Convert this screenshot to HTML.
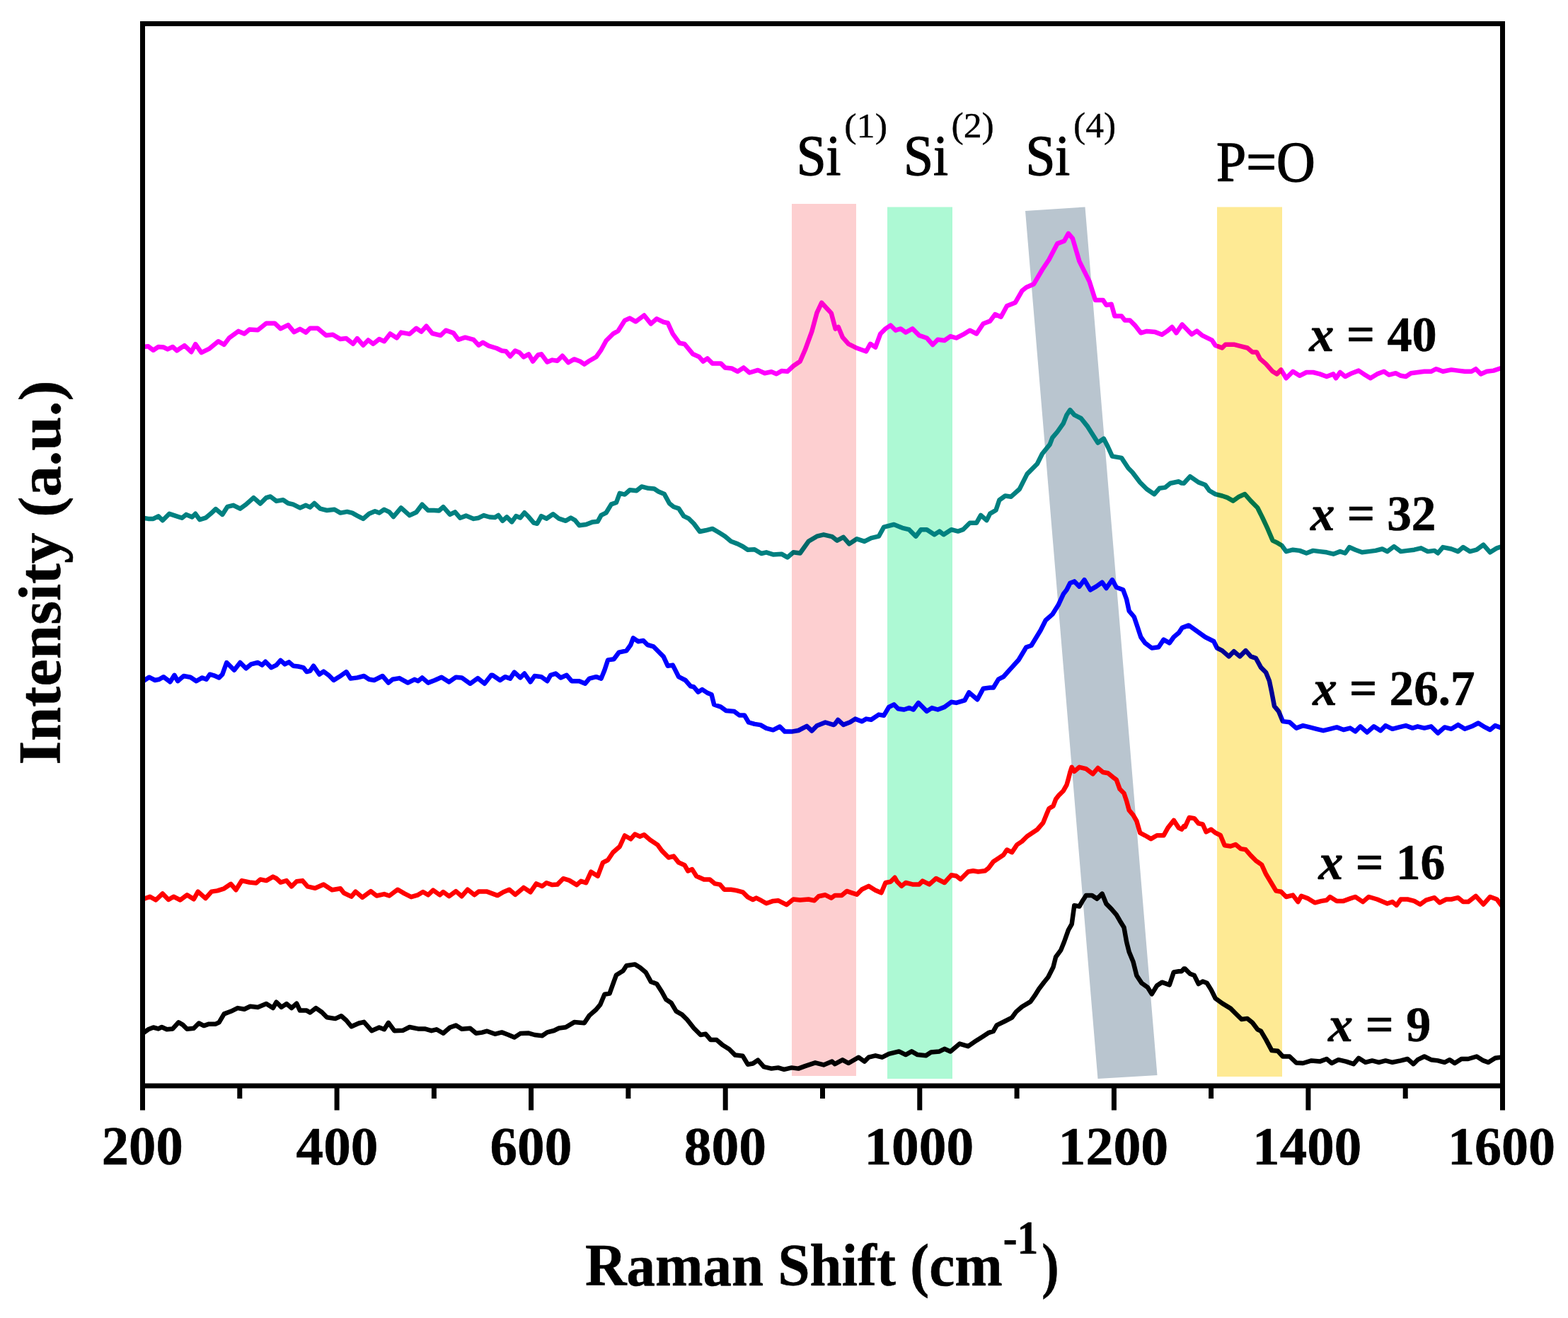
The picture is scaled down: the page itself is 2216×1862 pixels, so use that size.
<!DOCTYPE html>
<html><head><meta charset="utf-8"><title>Raman spectra</title>
<style>
html,body{margin:0;padding:0;background:#fff;}
body{width:2216px;height:1862px;overflow:hidden;}
svg{display:block;}
text{font-family:'Liberation Serif','Times New Roman',serif;fill:#000;stroke:#000;stroke-width:1.3px;stroke-linejoin:round;}
.b{font-weight:bold;stroke-width:0.6px;}
.cv{fill:none;stroke-width:6.5;stroke-linejoin:round;stroke-linecap:round;}
</style></head><body>
<svg width="2216" height="1862" viewBox="0 0 2216 1862">
<rect x="0" y="0" width="2216" height="1862" fill="#ffffff"/>

<g id="bands1">
<rect x="1254" y="292.5" width="92" height="1231.5" fill="#adf9d4"/>
<polygon points="1449,298 1533.5,292.5 1635.5,1519 1551.5,1524" fill="#b9c5cf"/>
</g>
<g id="curves">
<path class="cv" stroke="#ff00ff" d="M202.4,490.0 L209.5,489.3 L216.7,494.8 L223.8,490.0 L231.0,490.5 L236.9,493.4 L244.1,490.0 L250.0,495.3 L260.7,488.1 L270.3,497.2 L276.2,486.2 L284.6,498.1 L295.3,492.9 L308.4,482.2 L316.7,486.9 L323.9,477.4 L337.0,467.9 L345.3,471.5 L352.5,465.5 L364.4,466.2 L376.3,456.7 L388.2,456.7 L396.5,464.3 L407.2,459.1 L415.6,469.1 L423.9,464.8 L432.3,469.6 L438.2,463.8 L448.9,463.8 L460.8,473.8 L470.4,472.7 L481.1,479.1 L489.4,478.1 L499.0,485.8 L504.9,478.1 L513.2,487.7 L520.4,480.5 L527.5,485.8 L535.9,479.1 L543.0,482.2 L551.4,471.5 L560.9,477.4 L566.8,469.6 L578.8,471.9 L588.3,463.8 L595.4,468.6 L602.6,460.7 L610.9,471.0 L622.8,473.8 L630.0,466.7 L640.7,470.3 L647.8,479.8 L657.4,476.7 L669.3,479.8 L676.4,487.7 L682.4,483.8 L690.7,488.6 L701.9,492.0 L709.1,495.5 L715.0,496.2 L721.0,503.4 L728.1,495.5 L734.1,497.9 L740.0,504.3 L747.2,500.3 L753.1,510.5 L760.3,501.5 L765.0,500.3 L773.4,511.5 L780.5,508.6 L787.7,509.8 L794.8,502.7 L803.1,512.2 L811.5,507.4 L819.8,510.5 L825.8,514.6 L832.9,509.8 L842.5,504.3 L849.6,494.3 L856.7,481.2 L866.3,471.7 L873.4,467.7 L882.9,452.7 L890.1,449.6 L898.4,454.3 L910.3,445.5 L919.9,457.4 L928.2,450.3 L937.7,455.0 L943.7,456.2 L950.8,471.7 L960.4,484.8 L967.5,486.0 L979.4,500.3 L987.8,503.9 L993.7,510.5 L999.7,506.3 L1006.8,513.4 L1018.7,513.4 L1024.7,519.4 L1034.2,520.5 L1042.5,524.8 L1050.9,519.4 L1059.2,526.5 L1071.1,522.9 L1080.7,527.2 L1090.2,525.3 L1097.3,528.2 L1104.5,524.1 L1112.8,524.8 L1121.2,517.0 L1130.7,510.5 L1137.8,494.3 L1147.4,468.1 L1154.5,441.9 L1161.2,427.6 L1168.8,436.0 L1174.8,442.4 L1180.7,464.6 L1184.8,462.0 L1190.7,476.3 L1199.1,485.8 L1211.0,491.8 L1224.1,496.5 L1230.0,485.8 L1237.2,490.6 L1244.3,471.5 L1251.5,464.4 L1258.6,459.6 L1265.8,466.7 L1272.9,464.4 L1280.0,469.6 L1289.6,464.4 L1299.1,473.9 L1309.8,477.5 L1318.2,487.0 L1325.3,479.8 L1334.8,481.0 L1343.2,475.1 L1351.5,477.5 L1361.0,472.7 L1370.6,466.7 L1380.1,471.5 L1389.6,457.2 L1399.2,453.6 L1406.3,444.1 L1414.6,447.7 L1423.0,432.2 L1434.9,427.4 L1444.4,410.8 L1450.4,406.0 L1461.1,401.2 L1473.0,381.0 L1482.5,366.7 L1494.4,344.1 L1504.0,340.5 L1509.9,329.8 L1515.9,336.9 L1525.4,369.1 L1532.5,383.4 L1539.7,397.7 L1548.0,423.9 L1558.8,423.9 L1563.5,431.0 L1570.7,429.8 L1575.4,446.5 L1585.0,446.5 L1589.7,452.5 L1596.9,452.5 L1604.0,459.6 L1612.3,470.3 L1620.7,467.9 L1632.6,469.1 L1642.1,472.7 L1649.3,467.9 L1656.4,462.0 L1662.4,470.3 L1670.7,458.4 L1679.5,467.6 L1684.3,472.4 L1691.4,467.6 L1698.6,473.6 L1705.7,477.2 L1712.9,480.7 L1717.6,487.9 L1727.2,491.5 L1731.9,486.7 L1743.8,486.7 L1753.4,489.1 L1762.9,491.5 L1770.0,497.4 L1776.0,497.4 L1780.8,506.9 L1789.1,514.1 L1798.6,524.8 L1804.6,528.4 L1810.5,522.4 L1817.7,534.3 L1827.2,524.8 L1836.7,530.8 L1846.3,526.0 L1855.8,526.0 L1865.3,528.4 L1874.9,532.0 L1884.4,528.4 L1888.0,534.3 L1893.9,526.0 L1901.1,532.0 L1910.6,527.2 L1920.1,523.6 L1927.3,528.4 L1936.8,534.3 L1946.3,528.4 L1955.9,524.8 L1963.0,529.6 L1972.5,527.2 L1979.7,530.8 L1986.8,532.0 L1994.0,527.2 L2003.5,526.0 L2013.0,524.8 L2022.5,524.8 L2029.7,521.2 L2039.2,524.8 L2051.1,522.4 L2060.7,523.6 L2070.2,524.8 L2079.7,524.8 L2085.7,521.2 L2092.8,528.4 L2101.2,524.8 L2110.7,523.6 L2121.4,520.0"/>
<path class="cv" stroke="#008080" d="M202.4,731.7 L209.5,732.9 L216.7,732.9 L223.8,729.3 L229.8,735.3 L239.3,725.8 L247.6,728.6 L257.2,731.7 L263.1,726.9 L271.5,730.5 L276.2,725.8 L282.2,734.1 L290.5,731.7 L297.7,725.8 L304.8,719.1 L314.3,726.9 L321.5,715.8 L329.8,713.8 L339.4,718.6 L347.7,712.7 L358.4,703.1 L367.9,711.5 L376.3,703.1 L382.2,701.5 L390.6,707.9 L400.1,706.2 L407.2,711.0 L414.4,712.7 L423.9,717.4 L432.3,713.8 L438.2,716.7 L444.2,711.0 L452.5,718.6 L462.0,721.0 L472.7,719.8 L481.1,724.6 L490.6,722.9 L497.8,724.6 L504.9,728.6 L513.2,732.9 L521.6,725.8 L529.9,722.2 L535.9,724.6 L543.0,719.8 L550.2,723.4 L556.1,730.0 L566.8,717.4 L578.8,728.1 L588.3,723.8 L596.6,712.7 L605.0,721.0 L613.3,721.0 L620.4,721.5 L626.4,716.2 L635.9,726.9 L643.1,723.4 L650.2,731.7 L658.6,728.6 L669.3,732.9 L676.4,731.7 L683.6,728.1 L691.9,730.5 L699.5,731.0 L704.3,727.9 L710.2,735.8 L716.2,730.3 L723.3,737.4 L729.3,729.1 L735.3,731.5 L741.2,724.3 L747.2,730.3 L754.3,738.6 L759.1,739.8 L765.0,729.1 L772.2,732.7 L781.7,726.2 L790.0,732.7 L799.6,735.8 L806.7,731.5 L812.7,735.0 L818.6,742.2 L828.2,741.0 L837.7,737.4 L844.8,736.7 L849.6,727.9 L856.7,724.3 L863.9,712.4 L871.0,710.0 L875.8,696.9 L882.9,698.6 L890.1,692.2 L899.6,693.3 L906.8,687.4 L916.3,689.8 L924.6,690.5 L930.6,694.5 L938.9,698.1 L946.1,711.2 L952.0,716.0 L959.2,718.4 L966.3,729.1 L973.5,732.7 L980.6,739.8 L989.0,751.0 L997.3,749.3 L1006.8,746.9 L1015.2,751.7 L1024.7,757.7 L1033.0,764.8 L1042.5,768.4 L1049.7,772.0 L1056.8,776.7 L1066.4,776.2 L1075.9,782.0 L1083.0,780.3 L1092.6,783.4 L1104.5,782.7 L1112.8,787.4 L1121.2,780.3 L1130.7,781.5 L1142.6,764.8 L1154.5,757.7 L1164.0,755.3 L1175.9,758.1 L1180.0,761.3 L1183.1,763.6 L1191.9,758.9 L1200.2,768.4 L1211.0,761.3 L1221.7,764.9 L1231.2,760.1 L1241.9,757.7 L1249.1,744.6 L1263.4,741.0 L1275.3,745.8 L1284.8,748.2 L1294.3,757.7 L1301.5,748.2 L1309.8,748.2 L1320.5,755.3 L1327.7,750.6 L1333.6,755.3 L1344.4,748.2 L1353.9,750.6 L1361.0,748.2 L1370.6,738.7 L1380.1,738.7 L1386.1,727.9 L1394.4,735.1 L1399.2,725.6 L1407.5,720.8 L1412.3,706.5 L1420.6,700.5 L1428.9,701.7 L1440.8,691.0 L1451.6,669.6 L1465.9,655.3 L1473.0,641.0 L1483.7,627.9 L1487.3,618.4 L1494.4,610.0 L1502.8,598.1 L1507.5,586.2 L1512.3,579.1 L1518.3,586.2 L1527.8,591.0 L1537.3,602.9 L1543.3,612.4 L1551.6,625.5 L1559.9,619.6 L1565.9,631.5 L1571.9,644.6 L1585.0,646.9 L1594.5,661.2 L1600.4,667.2 L1611.2,681.5 L1620.7,691.0 L1631.4,698.2 L1638.6,689.8 L1646.9,688.6 L1654.0,682.7 L1665.9,680.3 L1670.0,682.6 L1673.1,682.7 L1681.9,673.1 L1693.8,681.4 L1703.3,685.0 L1709.3,693.3 L1717.6,698.1 L1727.2,700.5 L1734.3,702.9 L1742.7,707.6 L1751.0,701.7 L1759.3,698.1 L1767.7,707.6 L1777.2,717.2 L1784.3,731.5 L1791.5,746.9 L1798.6,763.6 L1805.8,767.2 L1811.7,770.8 L1817.7,779.1 L1827.2,776.7 L1836.7,777.9 L1846.3,781.5 L1855.8,777.9 L1865.3,779.1 L1874.9,780.3 L1884.4,782.7 L1893.9,779.1 L1901.1,781.5 L1907.0,773.1 L1915.4,776.7 L1924.9,780.3 L1934.4,779.1 L1943.9,777.9 L1953.5,775.5 L1960.6,779.1 L1970.1,772.0 L1979.7,779.1 L1989.2,777.9 L1998.7,776.7 L2008.3,774.3 L2017.8,779.1 L2027.3,777.9 L2032.1,781.5 L2039.2,773.1 L2051.1,775.5 L2060.7,779.1 L2067.8,773.1 L2077.3,779.1 L2086.9,776.7 L2096.4,769.6 L2105.9,780.3 L2115.5,774.3 L2122.6,772.0"/>
<path class="cv" stroke="#0000ff" d="M202.4,962.2 L210.7,956.7 L219.1,961.0 L225.0,959.8 L231.0,956.2 L240.5,963.4 L246.5,953.8 L251.2,962.2 L259.6,955.0 L269.1,956.7 L277.4,962.2 L285.8,957.4 L291.7,959.8 L296.5,952.7 L302.4,954.3 L309.6,957.4 L314.3,952.7 L320.3,936.0 L331.0,946.7 L339.4,936.0 L347.7,944.3 L354.8,938.4 L364.4,936.0 L370.3,939.6 L375.1,934.8 L383.4,943.1 L390.6,939.6 L396.5,932.9 L402.5,938.4 L408.4,935.3 L414.4,940.7 L421.5,941.5 L428.7,943.1 L433.4,949.1 L438.2,947.9 L443.0,940.7 L451.3,952.7 L457.3,948.6 L464.4,953.8 L471.6,961.0 L479.9,955.8 L489.4,949.1 L495.4,958.6 L504.9,957.4 L514.4,955.0 L521.6,959.8 L528.7,961.0 L540.6,955.0 L549.0,964.6 L554.9,959.8 L564.5,958.1 L576.4,964.6 L585.9,959.8 L590.7,962.2 L596.6,957.4 L605.0,964.6 L614.5,961.0 L624.0,956.7 L634.7,963.4 L644.3,956.7 L652.6,957.4 L664.5,965.8 L675.2,958.1 L684.8,965.8 L694.3,953.8 L696.0,953.8 L706.7,961.0 L713.8,956.2 L721.0,958.6 L726.9,949.6 L735.3,957.4 L741.2,951.5 L749.6,963.4 L755.5,955.0 L765.0,956.2 L773.4,962.2 L778.1,953.8 L785.3,951.5 L792.4,957.4 L800.8,953.8 L807.9,962.2 L818.6,962.2 L827.0,965.8 L832.9,958.6 L842.5,956.2 L849.6,958.6 L854.4,946.7 L859.1,932.4 L867.5,931.2 L874.6,921.7 L885.3,919.3 L891.3,911.0 L894.9,901.4 L902.0,906.2 L909.2,905.0 L915.1,911.0 L923.4,913.3 L930.6,920.5 L937.7,927.6 L943.7,940.7 L950.8,939.6 L959.2,956.2 L968.7,961.0 L975.9,969.3 L980.6,970.5 L986.6,977.7 L992.5,974.1 L999.7,978.9 L1005.6,981.2 L1009.2,995.5 L1018.7,998.6 L1025.9,1003.9 L1037.8,1005.1 L1044.9,1010.5 L1052.1,1010.5 L1058.0,1020.5 L1066.4,1022.9 L1074.7,1024.1 L1083.0,1028.9 L1092.6,1031.3 L1102.1,1026.5 L1109.2,1033.6 L1118.8,1033.6 L1128.3,1032.0 L1140.2,1025.8 L1147.4,1032.5 L1154.5,1025.3 L1166.4,1020.5 L1178.3,1024.1 L1180.0,1022.7 L1184.3,1017.0 L1191.9,1023.9 L1201.4,1020.3 L1208.6,1015.6 L1218.1,1019.2 L1224.1,1015.6 L1231.2,1016.8 L1241.9,1009.6 L1249.1,1010.8 L1256.2,998.9 L1263.4,995.3 L1269.3,1001.3 L1277.7,1002.5 L1284.8,1000.1 L1290.8,1002.5 L1297.9,992.9 L1309.8,1004.9 L1317.0,1000.1 L1325.3,1002.5 L1334.8,998.9 L1344.4,991.8 L1351.5,992.9 L1363.4,989.4 L1369.4,978.2 L1381.3,988.2 L1389.6,972.7 L1399.2,971.5 L1403.9,971.5 L1411.1,959.6 L1418.2,956.0 L1427.7,945.3 L1439.6,932.2 L1450.4,914.3 L1457.5,912.0 L1470.6,890.5 L1477.8,876.2 L1487.3,867.9 L1495.6,854.8 L1502.8,839.3 L1507.5,833.3 L1512.3,823.8 L1518.3,821.4 L1525.4,828.6 L1532.5,819.1 L1540.9,833.3 L1549.2,828.6 L1557.6,822.6 L1563.5,831.0 L1571.9,819.1 L1577.8,829.8 L1587.3,833.3 L1592.1,846.5 L1595.7,863.1 L1602.8,871.5 L1607.6,885.8 L1612.3,900.0 L1618.3,908.4 L1627.8,915.5 L1637.4,914.3 L1644.5,903.6 L1652.8,908.4 L1658.8,900.0 L1665.9,894.1 L1670.7,886.9 L1680.0,883.4 L1703.3,900.0 L1715.3,906.0 L1720.0,915.5 L1727.2,919.1 L1736.7,927.4 L1743.8,920.2 L1752.2,927.4 L1760.5,919.1 L1767.7,927.4 L1774.8,929.8 L1782.0,942.9 L1789.1,950.0 L1793.9,961.9 L1797.4,978.6 L1801.0,997.7 L1807.0,1004.8 L1812.9,1019.1 L1822.5,1020.3 L1832.0,1028.6 L1841.5,1025.1 L1851.0,1027.4 L1860.6,1029.8 L1870.1,1032.2 L1879.6,1029.8 L1889.2,1027.4 L1898.7,1031.0 L1908.2,1028.6 L1915.4,1033.4 L1922.5,1026.3 L1932.0,1034.6 L1941.6,1026.3 L1951.1,1032.2 L1958.2,1025.1 L1967.8,1029.8 L1977.3,1027.4 L1986.8,1025.1 L1996.3,1028.6 L2003.5,1026.3 L2013.0,1028.6 L2022.5,1026.3 L2032.1,1035.8 L2041.6,1027.4 L2051.1,1029.8 L2060.7,1023.9 L2070.2,1029.8 L2079.7,1026.3 L2089.2,1021.5 L2098.8,1027.4 L2105.9,1031.0 L2113.1,1025.1 L2122.6,1028.6"/>
<path class="cv" stroke="#ff0000" d="M202.4,1270.3 L211.9,1266.7 L220.2,1271.5 L229.8,1262.4 L238.1,1271.0 L245.3,1266.7 L254.8,1271.5 L264.3,1264.3 L273.8,1270.3 L279.8,1259.6 L290.5,1269.1 L298.9,1259.6 L307.2,1258.4 L316.7,1255.3 L326.3,1248.8 L333.4,1257.2 L341.7,1244.1 L352.5,1246.5 L362.0,1247.6 L367.9,1242.4 L376.3,1244.1 L385.8,1238.6 L390.6,1241.0 L396.5,1246.5 L404.9,1244.1 L412.0,1252.4 L419.2,1245.3 L427.5,1244.1 L434.6,1252.4 L445.4,1254.8 L457.3,1249.5 L469.2,1257.2 L481.1,1255.3 L485.9,1261.5 L496.6,1266.7 L502.5,1259.6 L512.1,1267.9 L524.0,1259.1 L532.3,1265.5 L543.0,1263.1 L550.2,1265.5 L562.1,1256.7 L571.6,1262.4 L581.1,1267.2 L590.7,1264.3 L597.8,1260.0 L605.0,1264.3 L612.1,1257.6 L621.6,1264.3 L626.4,1260.0 L634.7,1266.2 L644.3,1259.1 L652.6,1266.2 L660.9,1256.7 L670.5,1264.3 L676.4,1259.6 L688.3,1259.6 L703.1,1265.1 L711.4,1260.3 L719.8,1256.7 L728.1,1263.9 L735.3,1257.9 L740.0,1253.9 L749.6,1260.3 L757.9,1248.4 L766.2,1252.0 L772.2,1247.2 L780.5,1250.1 L787.7,1249.6 L796.0,1241.2 L804.3,1243.6 L815.1,1250.1 L821.0,1244.8 L828.2,1247.2 L835.3,1231.7 L844.8,1237.7 L852.0,1218.6 L859.1,1215.0 L866.3,1204.3 L875.8,1196.0 L882.9,1180.5 L891.3,1185.3 L897.2,1178.6 L904.4,1181.7 L910.3,1179.3 L918.7,1186.5 L929.4,1193.6 L935.4,1201.9 L944.9,1211.5 L952.0,1209.6 L959.2,1218.6 L967.5,1222.2 L972.3,1230.5 L978.2,1228.1 L984.2,1237.7 L994.9,1242.4 L1003.2,1242.4 L1010.4,1248.4 L1017.5,1249.6 L1023.5,1256.7 L1033.0,1256.7 L1040.2,1257.9 L1049.7,1260.3 L1056.8,1267.4 L1064.0,1271.0 L1068.8,1268.6 L1075.9,1272.2 L1083.0,1276.3 L1092.6,1272.9 L1099.7,1272.2 L1111.6,1278.2 L1121.2,1270.5 L1130.7,1271.5 L1142.6,1270.5 L1150.9,1272.2 L1156.9,1266.3 L1166.4,1264.3 L1174.8,1268.6 L1180.0,1264.9 L1181.9,1265.1 L1189.5,1264.9 L1196.7,1258.9 L1203.8,1261.3 L1211.0,1263.7 L1218.1,1256.5 L1227.6,1251.8 L1237.2,1257.7 L1245.5,1261.3 L1251.5,1247.0 L1258.6,1245.8 L1264.6,1239.8 L1268.1,1245.8 L1274.1,1251.8 L1280.0,1247.0 L1289.6,1249.4 L1299.1,1249.4 L1303.9,1244.6 L1313.4,1249.4 L1322.9,1241.0 L1334.8,1247.0 L1344.4,1236.3 L1351.5,1237.5 L1357.5,1242.2 L1368.2,1231.5 L1375.3,1230.3 L1382.5,1231.5 L1392.0,1230.3 L1396.8,1226.7 L1403.9,1217.2 L1411.1,1212.5 L1418.2,1207.7 L1423.0,1200.5 L1430.1,1204.1 L1437.3,1193.4 L1444.4,1188.6 L1451.6,1181.5 L1458.7,1176.7 L1465.9,1172.0 L1474.2,1162.4 L1479.0,1150.5 L1482.5,1142.2 L1488.5,1138.6 L1492.1,1129.1 L1496.8,1123.1 L1502.8,1117.2 L1507.5,1108.8 L1509.9,1100.5 L1512.3,1091.0 L1514.7,1083.8 L1518.3,1089.8 L1525.4,1083.8 L1534.9,1086.2 L1544.5,1093.3 L1551.6,1085.0 L1558.8,1091.0 L1565.9,1092.2 L1573.0,1098.1 L1577.8,1101.7 L1582.6,1114.8 L1588.5,1120.7 L1592.1,1131.5 L1595.7,1144.6 L1601.6,1151.7 L1606.4,1160.0 L1611.2,1176.7 L1618.3,1180.3 L1626.6,1185.1 L1635.0,1180.3 L1644.5,1180.3 L1650.5,1169.6 L1658.8,1158.9 L1665.9,1169.6 L1670.0,1171.7 L1673.1,1167.2 L1674.8,1168.1 L1680.7,1155.0 L1687.9,1156.2 L1693.8,1163.3 L1699.8,1164.5 L1704.5,1175.3 L1711.7,1171.7 L1717.6,1176.5 L1724.8,1180.0 L1730.7,1194.3 L1739.1,1195.5 L1746.2,1193.1 L1753.4,1199.1 L1760.5,1200.3 L1767.7,1208.6 L1774.8,1215.8 L1783.1,1221.7 L1789.1,1234.8 L1796.3,1246.7 L1803.4,1258.6 L1810.5,1259.8 L1817.7,1267.0 L1827.2,1264.6 L1834.4,1274.1 L1839.1,1265.8 L1848.7,1269.4 L1858.2,1275.3 L1867.7,1272.9 L1874.9,1271.7 L1879.6,1267.0 L1889.2,1272.9 L1898.7,1272.9 L1908.2,1269.4 L1915.4,1267.0 L1926.1,1274.1 L1934.4,1267.0 L1946.3,1270.5 L1960.6,1276.5 L1967.8,1274.1 L1973.7,1278.9 L1979.7,1270.5 L1989.2,1270.5 L1998.7,1272.9 L2007.1,1277.7 L2015.4,1271.7 L2027.3,1268.2 L2034.5,1275.3 L2044.0,1270.5 L2051.1,1270.5 L2060.7,1268.2 L2067.8,1274.1 L2075.0,1274.1 L2085.7,1265.8 L2096.4,1277.7 L2105.9,1267.0 L2115.5,1270.5 L2122.6,1280.1"/>
<path class="cv" stroke="#000000" d="M203.6,1458.6 L209.5,1454.3 L216.7,1451.5 L223.8,1453.4 L228.6,1451.0 L235.7,1454.3 L244.1,1453.4 L252.4,1444.3 L258.4,1447.9 L264.3,1453.8 L273.8,1452.7 L281.0,1445.5 L288.1,1449.1 L295.3,1446.7 L304.8,1446.7 L309.6,1444.3 L316.7,1432.4 L326.3,1428.8 L335.8,1424.1 L345.3,1425.7 L353.6,1421.7 L364.4,1422.9 L376.3,1418.1 L385.8,1424.1 L390.6,1415.7 L397.7,1422.9 L404.9,1418.1 L412.0,1424.1 L419.2,1417.6 L423.9,1427.6 L433.4,1427.6 L438.2,1430.5 L446.5,1424.1 L454.9,1430.0 L462.0,1437.2 L473.9,1439.1 L482.3,1435.3 L489.4,1441.5 L496.6,1450.3 L507.3,1445.5 L514.4,1443.8 L525.2,1456.2 L535.9,1451.5 L543.0,1454.3 L549.0,1444.8 L557.3,1456.2 L569.2,1455.8 L578.8,1451.0 L590.7,1453.4 L600.2,1453.4 L609.7,1456.2 L616.9,1454.3 L626.4,1459.8 L635.9,1451.5 L644.3,1448.6 L652.6,1453.8 L664.5,1452.7 L672.8,1459.8 L681.2,1458.6 L688.3,1456.7 L699.5,1460.8 L709.1,1458.4 L718.6,1462.0 L726.9,1465.6 L735.3,1460.1 L747.2,1459.6 L755.5,1462.0 L766.2,1463.2 L773.4,1458.4 L782.9,1456.0 L790.0,1452.5 L799.6,1451.3 L811.5,1444.1 L825.8,1445.3 L832.9,1434.6 L842.5,1426.3 L848.4,1419.1 L854.4,1404.8 L861.5,1403.6 L867.5,1386.9 L871.0,1377.4 L880.6,1371.5 L885.3,1364.3 L897.2,1362.4 L904.4,1366.7 L912.7,1373.8 L919.9,1386.9 L928.2,1390.0 L935.4,1401.2 L941.3,1412.0 L948.5,1416.7 L955.6,1428.6 L963.9,1433.4 L971.1,1440.5 L980.6,1452.5 L990.1,1462.0 L997.3,1460.8 L1004.4,1469.1 L1012.8,1469.1 L1021.1,1476.3 L1030.6,1482.2 L1039.0,1490.6 L1049.7,1491.8 L1056.8,1503.7 L1064.0,1502.5 L1071.1,1497.7 L1079.5,1507.2 L1090.2,1509.6 L1099.7,1508.4 L1108.1,1510.8 L1118.8,1508.4 L1128.3,1509.6 L1137.8,1506.1 L1152.1,1501.3 L1164.0,1504.4 L1175.9,1499.6 L1180.0,1503.2 L1190.7,1497.3 L1199.1,1502.0 L1213.3,1493.7 L1221.7,1499.6 L1227.6,1493.7 L1237.2,1491.3 L1246.7,1493.7 L1256.2,1488.9 L1270.5,1485.4 L1280.0,1490.1 L1288.4,1485.4 L1296.7,1490.1 L1308.6,1491.3 L1315.8,1486.5 L1327.7,1485.4 L1334.8,1481.8 L1343.2,1485.4 L1356.3,1474.6 L1368.2,1478.2 L1380.1,1469.9 L1389.6,1463.9 L1396.8,1459.2 L1403.9,1456.8 L1408.7,1448.4 L1420.6,1442.5 L1430.1,1437.7 L1436.1,1429.4 L1444.4,1422.2 L1456.3,1415.1 L1462.3,1406.7 L1468.2,1397.2 L1475.4,1387.7 L1481.3,1380.5 L1488.5,1366.3 L1492.1,1352.0 L1499.2,1342.4 L1504.0,1330.5 L1509.9,1313.8 L1514.7,1305.5 L1518.3,1279.3 L1525.4,1280.5 L1530.2,1272.2 L1534.9,1265.0 L1543.3,1265.0 L1550.4,1269.8 L1557.6,1262.6 L1563.5,1276.9 L1570.7,1284.1 L1577.8,1292.4 L1582.6,1300.7 L1588.5,1310.3 L1592.1,1330.5 L1595.7,1344.8 L1601.6,1359.1 L1606.4,1378.2 L1613.5,1388.9 L1621.9,1394.8 L1627.8,1404.4 L1635.0,1392.5 L1642.1,1387.7 L1652.8,1391.3 L1658.8,1373.4 L1665.9,1372.2 L1670.0,1372.2 L1673.1,1368.6 L1674.8,1368.6 L1681.9,1375.7 L1687.9,1378.1 L1693.8,1390.0 L1699.8,1386.5 L1705.7,1388.8 L1711.7,1398.4 L1717.6,1410.3 L1727.2,1417.4 L1739.1,1424.6 L1746.2,1431.7 L1754.6,1440.0 L1762.9,1438.9 L1770.0,1444.8 L1777.2,1454.3 L1782.0,1456.7 L1789.1,1468.6 L1797.4,1484.1 L1805.8,1484.8 L1812.9,1492.5 L1822.5,1492.5 L1832.0,1501.5 L1841.5,1502.0 L1853.4,1498.4 L1865.3,1499.6 L1874.9,1496.0 L1882.0,1502.0 L1891.5,1497.2 L1902.3,1499.6 L1913.0,1503.2 L1920.1,1494.8 L1929.6,1500.8 L1939.2,1498.4 L1948.7,1500.8 L1958.2,1498.4 L1967.8,1500.8 L1979.7,1498.4 L1989.2,1496.0 L1997.5,1503.2 L2003.5,1497.2 L2013.0,1492.5 L2022.5,1497.2 L2032.1,1498.4 L2041.6,1500.8 L2048.8,1497.2 L2055.9,1502.0 L2065.4,1496.0 L2075.0,1496.0 L2086.9,1492.5 L2096.4,1498.4 L2103.5,1500.8 L2113.1,1494.8 L2121.4,1493.6"/>
</g>
<g id="bands2" style="mix-blend-mode:multiply">
<rect x="1119" y="288" width="91" height="1232" fill="#fdcfd0" style="mix-blend-mode:multiply"/>
<rect x="1720" y="292.5" width="92" height="1228.5" fill="#feea94" style="mix-blend-mode:multiply"/>
</g>
<g id="axes" stroke="#000" stroke-width="7" fill="none">
<rect x="201.5" y="33.5" width="1922" height="1500.5"/>
<path d="M201.5,1534 V1568.5 M338.8,1534 V1552 M476.1,1534 V1568.5 M613.4,1534 V1552 M750.6,1534 V1568.5 M887.9,1534 V1552 M1025.2,1534 V1568.5 M1162.5,1534 V1552 M1299.8,1534 V1568.5 M1437.1,1534 V1552 M1574.4,1534 V1568.5 M1711.6,1534 V1552 M1848.9,1534 V1568.5 M1986.2,1534 V1552 M2123.5,1534 V1568.5" stroke-linecap="butt"/>
</g>
<g transform="matrix(0.9574,0,0,0.9655,8.34,55.60)"><text class="b" x="201.5" y="1646" font-size="80" text-anchor="middle">200</text></g>
<g transform="matrix(0.9655,0,0,0.9636,16.78,58.89)"><text class="b" x="476.1" y="1646" font-size="80" text-anchor="middle">400</text></g>
<g transform="matrix(0.9652,0,0,0.9636,25.90,58.89)"><text class="b" x="750.6" y="1646" font-size="80" text-anchor="middle">600</text></g>
<g transform="matrix(0.9696,0,0,0.9636,30.86,58.89)"><text class="b" x="1025.2" y="1646" font-size="80" text-anchor="middle">800</text></g>
<g transform="matrix(0.9669,0,0,0.9636,42.00,58.89)"><text class="b" x="1299.8" y="1646" font-size="80" text-anchor="middle">1000</text></g>
<g transform="matrix(0.9735,0,0,0.9636,40.76,58.89)"><text class="b" x="1574.4" y="1646" font-size="80" text-anchor="middle">1200</text></g>
<g transform="matrix(0.9629,0,0,0.9491,66.83,82.85)"><text class="b" x="1848.9" y="1646" font-size="80" text-anchor="middle">1400</text></g>
<g transform="matrix(0.9517,0,0,0.9491,101.11,82.85)"><text class="b" x="2123.5" y="1646" font-size="80" text-anchor="middle">1600</text></g>
<g transform="matrix(0.9423,0,0,0.9753,46.83,43.36)"><text class="b" x="828" y="1818" font-size="86">Raman Shift (cm</text></g>
<g transform="matrix(0.9271,0,0,1.0595,101.19,-104.92)"><text class="b" x="1420" y="1771" font-size="64">-1</text></g>
<g transform="matrix(0.8478,0,0,1.0128,224.30,-24.54)"><text class="b" x="1472" y="1818" font-size="86">)</text></g>
<g transform="matrix(0.9625,0,0,0.9989,3.60,4.00)"><text class="b" transform="translate(85,1078) rotate(-90)" font-size="87">Intensity (a.u.)</text></g>
<g transform="matrix(0.9426,0,0,1.0054,60.32,-2.34)"><text x="1130.2" y="248" font-size="80">Si</text></g>
<g transform="matrix(1.0035,0,0,0.9521,-5.60,9.12)"><text x="1194.6" y="194" font-size="52" style="stroke-width:0.4px">(1)</text></g>
<g transform="matrix(0.9443,0,0,0.9929,66.53,0.49)"><text x="1281.8" y="248" font-size="80">Si</text></g>
<g transform="matrix(0.9965,0,0,0.9604,2.93,7.61)"><text x="1346.2" y="194" font-size="52" style="stroke-width:0.4px">(2)</text></g>
<g transform="matrix(0.9426,0,0,0.9929,78.81,0.49)"><text x="1454.1" y="248" font-size="80">Si</text></g>
<g transform="matrix(0.9895,0,0,0.9604,14.50,7.61)"><text x="1518.5" y="194" font-size="52" style="stroke-width:0.4px">(4)</text></g>
<g transform="matrix(0.9596,0,0,1.0222,67.65,-6.66)"><text x="1721" y="257" font-size="79">P=O</text></g>
<g transform="matrix(1.0034,0,0,0.9937,-4.59,2.31)"><text class="b" x="1848.6" y="497.2" font-size="70"><tspan font-style="italic">x</tspan> = 40</text></g>
<g transform="matrix(0.9860,0,0,1.0063,27.32,-6.00)"><text class="b" x="1850.5" y="750.7" font-size="70"><tspan font-style="italic">x</tspan> = 32</text></g>
<g transform="matrix(0.9863,0,0,1.0062,27.04,-6.93)"><text class="b" x="1853.6" y="996.3" font-size="70"><tspan font-style="italic">x</tspan> = 26.7</text></g>
<g transform="matrix(0.9944,0,0,1.0333,11.64,-42.27)"><text class="b" x="1862.3" y="1243.2" font-size="70"><tspan font-style="italic">x</tspan> = 16</text></g>
<g transform="matrix(1.0021,0,0,1.0062,-2.40,-9.90)"><text class="b" x="1875.5" y="1471.3" font-size="70"><tspan font-style="italic">x</tspan> = 9</text></g>
</svg></body></html>
